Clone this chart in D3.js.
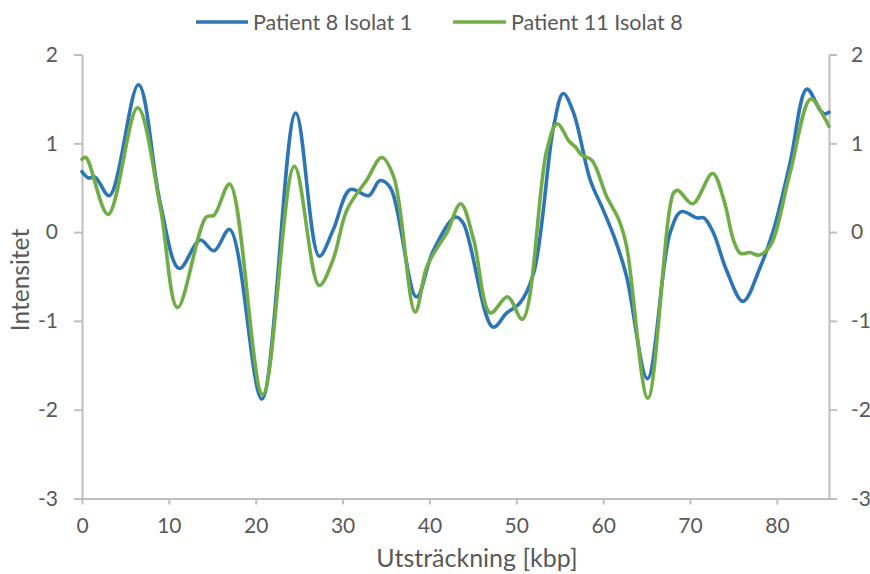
<!DOCTYPE html>
<html>
<head>
<meta charset="utf-8">
<script src="https://cdn.jsdelivr.net/npm/d3@7"></script>
<style>
  html, body { margin: 0; padding: 0; background: #fff; }
  svg { display: block; }
  text { font-family: Lato, "Open Sans", sans-serif; fill: #595959; }
</style>
</head>
<body>
<svg id="chart" width="870" height="574"></svg>
<script>
// Sample positions (kbp) and intensities for each isolate
const blueX = [0, 0.75, 1.5, 3.15, 6.5, 9.0, 11.2, 13.6, 15.2, 17.0, 20.7, 24.6, 27.3, 28.9, 30.9, 33.0, 34.3, 35.5, 38.5, 40.4, 43.0, 43.9, 47.3, 48.9, 50.4, 52.0, 54.3, 55.4, 56.6, 58.5, 60.0, 61.4, 62.7, 65.1, 67.7, 69.0, 70.8, 71.6, 72.7, 74.2, 76.1, 78.1, 79.6, 81.5, 83.45, 85.0, 85.5, 86.0];
const blueY = [0.68, 0.61, 0.62, 0.41, 1.66, 0.33, -0.41, -0.09, -0.21, 0.03, -1.88, 1.34, -0.27, 0.02, 0.48, 0.41, 0.58, 0.50, -0.73, -0.22, 0.17, 0.10, -1.07, -0.91, -0.80, -0.46, 1.19, 1.56, 1.34, 0.59, 0.25, -0.09, -0.50, -1.65, -0.01, 0.23, 0.16, 0.16, -0.01, -0.43, -0.78, -0.39, 0.02, 0.77, 1.61, 1.37, 1.33, 1.35];

const greenX = [0, 0.45, 3.0, 6.4, 9.0, 11.0, 14.3, 15.2, 17.0, 20.8, 24.45, 27.3, 28.9, 30.5, 32.8, 34.5, 35.9, 38.35, 39.7, 41.2, 42.0, 43.6, 45.1, 47.0, 49.0, 50.7, 53.5, 54.7, 56.1, 56.8, 57.5, 58.7, 60.4, 61.8, 62.7, 65.15, 68.1, 68.6, 70.3, 72.6, 73.9, 75.0, 75.8, 76.9, 77.9, 79.2, 81.5, 83.9, 85.4, 86.0];
const greenY = [0.82, 0.84, 0.20, 1.40, 0.29, -0.85, 0.17, 0.19, 0.54, -1.83, 0.74, -0.60, -0.31, 0.25, 0.59, 0.84, 0.62, -0.90, -0.39, -0.13, -0.01, 0.32, -0.09, -0.91, -0.73, -0.98, 0.92, 1.22, 1.02, 0.96, 0.87, 0.81, 0.40, 0.14, -0.16, -1.87, 0.44, 0.47, 0.32, 0.66, 0.36, -0.09, -0.24, -0.23, -0.26, -0.16, 0.66, 1.50, 1.30, 1.19];

const seriesNames = ["Patient 8 Isolat 1", "Patient 11 Isolat 8"];
const seriesColors = ["#2E75B6", "#70AD47"];
const xTicks = [0, 10, 20, 30, 40, 50, 60, 70, 80];
const yTicks = [-3, -2, -1, 0, 1, 2];
const xTitle = "Utsträckning [kbp]";
const yTitle = "Intensitet";

const svg = d3.select("#chart");
const plot = { left: 82, right: 829, top: 54.5, bottom: 498.5 };

const x = d3.scaleLinear().domain([0, 86]).range([plot.left, plot.right]);
const y = d3.scaleLinear().domain([-3, 2]).range([plot.bottom, plot.top]);

// plain integers with an ASCII hyphen for negatives
const intLabel = d => String(d);

const axisColor = "#BFBFBF";
function styleAxis(g) {
  g.select(".domain").attr("stroke", axisColor).attr("stroke-width", 2);
  g.selectAll(".tick line").attr("stroke", axisColor).attr("stroke-width", 2);
  g.selectAll(".tick text").attr("fill", "#595959").style("font-size", "21px");
}

// Left axis
svg.append("g")
  .attr("transform", `translate(${plot.left},0)`)
  .call(d3.axisLeft(y).tickValues(yTicks).tickFormat(intLabel).tickSize(8).tickSizeOuter(0).tickPadding(16))
  .call(styleAxis);

// Right axis
svg.append("g")
  .attr("transform", `translate(${plot.right},0)`)
  .call(d3.axisRight(y).tickValues(yTicks).tickFormat(intLabel).tickSize(8).tickSizeOuter(0).tickPadding(14))
  .call(styleAxis);

// Bottom axis
svg.append("g")
  .attr("transform", `translate(0,${plot.bottom})`)
  .call(d3.axisBottom(x).tickValues(xTicks).tickFormat(intLabel).tickSize(6).tickSizeOuter(0).tickPadding(14))
  .call(styleAxis);

// Lines
const line = d3.line()
  .x(d => x(d[0]))
  .y(d => y(d[1]))
  .curve(d3.curveCatmullRom.alpha(0.5));

const series = [
  blueX.map((v, i) => [v, blueY[i]]),
  greenX.map((v, i) => [v, greenY[i]])
];

series.forEach((pts, i) => {
  svg.append("path")
    .datum(pts)
    .attr("fill", "none")
    .attr("stroke", seriesColors[i])
    .attr("stroke-width", 3.6)
    .attr("stroke-linejoin", "round")
    .attr("stroke-linecap", "round")
    .attr("d", line);
});

// Axis titles
svg.append("text")
  .attr("x", 477).attr("y", 567)
  .attr("text-anchor", "middle")
  .style("font-size", "25px")
  .text(xTitle);

svg.append("text")
  .attr("transform", `translate(29,280) rotate(-90)`)
  .attr("text-anchor", "middle")
  .style("font-size", "24.5px")
  .text(yTitle);

// Legend
const legendItems = [
  { x1: 196, x2: 248, tx: 253 },
  { x1: 453, x2: 506, tx: 511 }
];
legendItems.forEach((it, i) => {
  svg.append("line")
    .attr("x1", it.x1).attr("x2", it.x2)
    .attr("y1", 22).attr("y2", 22)
    .attr("stroke", seriesColors[i])
    .attr("stroke-width", 3.6);
  svg.append("text")
    .attr("x", it.tx).attr("y", 29.5)
    .style("font-size", "21.5px")
    .text(seriesNames[i]);
});
</script>
</body>
</html>
